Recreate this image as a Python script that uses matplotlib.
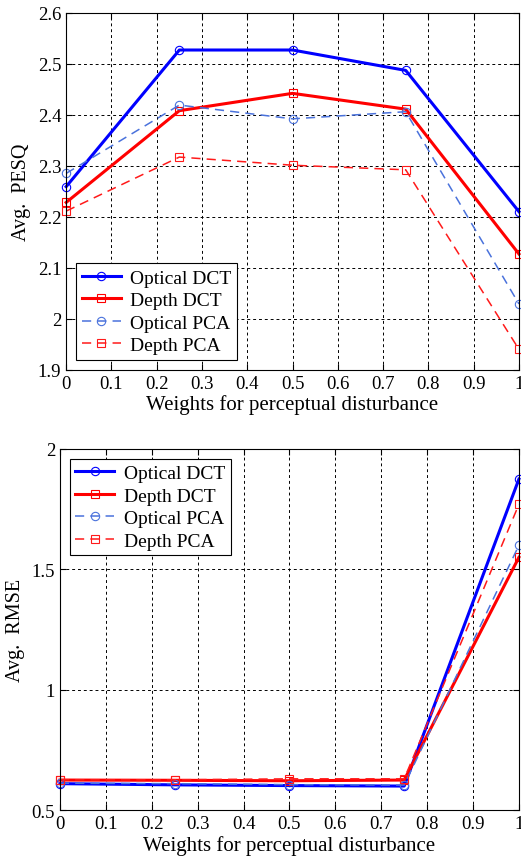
import matplotlib
matplotlib.use("Agg")
import matplotlib.pyplot as plt

plt.rcParams['font.family'] = ['Liberation Serif', 'DejaVu Serif']

weights = [0, 0.25, 0.5, 0.75, 1]
labels = ['Optical DCT', 'Depth DCT', 'Optical PCA', 'Depth PCA']

pesq_optical_dct = [2.259, 2.527, 2.527, 2.487, 2.210]
pesq_depth_dct = [2.228, 2.408, 2.442, 2.411, 2.127]
pesq_optical_pca = [2.285, 2.419, 2.392, 2.406, 2.029]
pesq_depth_pca = [2.211, 2.317, 2.301, 2.292, 1.940]

rmse_optical_dct = [0.610, 0.605, 0.602, 0.600, 1.875]
rmse_depth_dct = [0.625, 0.624, 0.622, 0.625, 1.550]
rmse_optical_pca = [0.612, 0.610, 0.606, 0.604, 1.600]
rmse_depth_pca = [0.626, 0.626, 0.630, 0.630, 1.770]

xticks = [0, 0.1, 0.2, 0.3, 0.4, 0.5, 0.6, 0.7, 0.8, 0.9, 1]
xticklabels = ['0', '0.1', '0.2', '0.3', '0.4', '0.5', '0.6', '0.7', '0.8', '0.9', '1']

styles = [
    dict(color='#0000ff', linestyle='-', linewidth=2.2, marker='o'),
    dict(color='#ff0000', linestyle='-', linewidth=2.2, marker='s'),
    dict(color='#4a72dc', linestyle=(0, (6, 4)), linewidth=1.1, marker='o'),
    dict(color='#ff1a1a', linestyle=(0, (6, 4)), linewidth=1.1, marker='s'),
]


def draw(ax, series, ylim, yticks, yticklabels, ylabel, legend_loc):
    for vals, lab, st in zip(series, labels, styles):
        ax.plot(weights, vals, label=lab, markersize=6, markerfacecolor='none',
                markeredgewidth=0.8, clip_on=False, **st)
    ax.set_xlim(0, 1)
    ax.set_ylim(*ylim)
    ax.set_xticks(xticks)
    ax.set_xticklabels(xticklabels)
    ax.set_yticks(yticks)
    ax.set_yticklabels(yticklabels)
    ax.grid(True, color='black', linestyle=(0, (3, 3)), linewidth=0.7)
    ax.tick_params(direction='in', labelsize=13.5, top=True, right=True, length=4)
    ax.set_xlabel('Weights for perceptual disturbance', fontsize=15, labelpad=2)
    ax.set_ylabel(ylabel, fontsize=14.5, labelpad=5)
    for s in ax.spines.values():
        s.set_linewidth(0.8)
    leg = ax.legend(loc=legend_loc, fontsize=14, fancybox=False, framealpha=1,
                    edgecolor='black', handlelength=2.0, borderpad=0.3,
                    labelspacing=0.25, handletextpad=0.5, borderaxespad=0.5)
    leg.get_frame().set_linewidth(0.8)


fig = plt.figure(figsize=(5.21, 8.62), dpi=100)
ax1 = fig.add_axes([0.127, 0.570, 0.869, 0.414])
ax2 = fig.add_axes([0.115, 0.059, 0.881, 0.419])

draw(ax1, [pesq_optical_dct, pesq_depth_dct, pesq_optical_pca, pesq_depth_pca],
     (1.9, 2.6), [1.9, 2.0, 2.1, 2.2, 2.3, 2.4, 2.5, 2.6],
     ['1.9', '2', '2.1', '2.2', '2.3', '2.4', '2.5', '2.6'],
     'Avg.  PESQ', 'lower left')
draw(ax2, [rmse_optical_dct, rmse_depth_dct, rmse_optical_pca, rmse_depth_pca],
     (0.5, 2.0), [0.5, 1.0, 1.5, 2.0], ['0.5', '1', '1.5', '2'],
     'Avg.  RMSE', 'upper left')

fig.savefig('out.png', dpi=100)
